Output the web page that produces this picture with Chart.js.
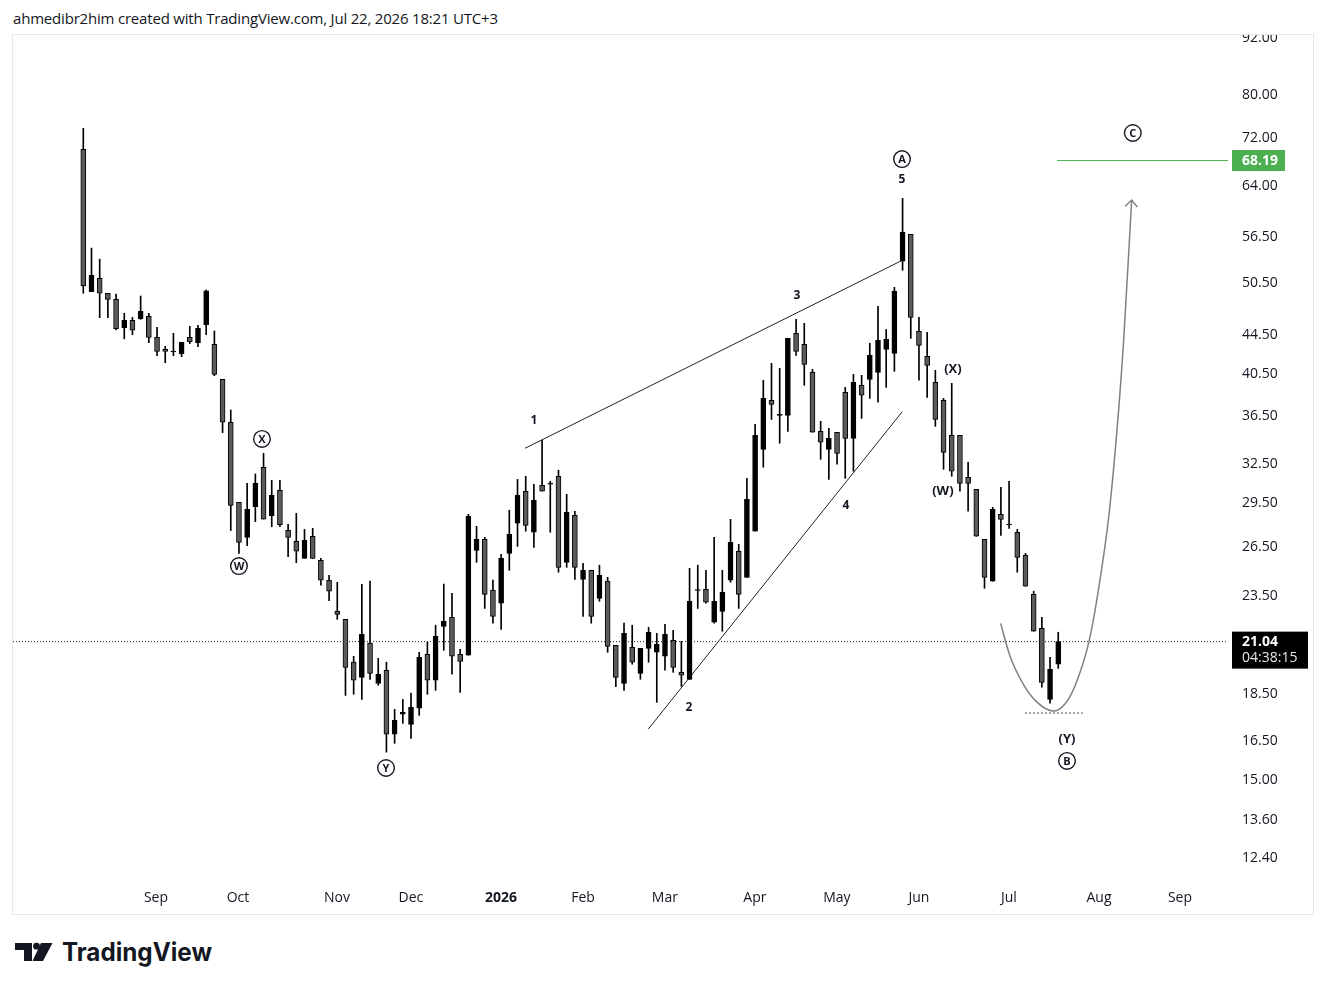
<!DOCTYPE html>
<html>
<head>
<meta charset="utf-8">
<script src="https://cdn.jsdelivr.net/npm/chart.js@4.4.1/dist/chart.umd.min.js"></script>
<style>
  body { margin: 0; background: #fff; width: 1326px; height: 990px; overflow: hidden; }
  #head { position: absolute; left: 0; top: 0; }
  #frame { position: absolute; left: 12px; top: 34px; width: 1300px; height: 879px; border: 1px solid #e6e6e6; }
  #logo { position: absolute; left: 0; top: 930px; }
</style>
</head>
<body>
<svg id="head" width="600" height="34">
  <text x="13" y="24" font-family="Open Sans" font-size="15" fill="#131722" textLength="485">ahmedibr2him created with TradingView.com, Jul 22, 2026 18:21 UTC+3</text>
</svg>
<div id="frame"><canvas id="chart" width="1300" height="879"></canvas></div>
<svg id="logo" width="260" height="50">
  <path d="M15 13 H32 V31 H24 V20 H15 Z" fill="#131722"/>
  <circle cx="36.5" cy="16.2" r="3.4" fill="#131722"/>
  <path d="M41 13 H52.5 L43 31 H32.5 Z" fill="#131722"/>
  <text x="62" y="31" font-family="Inter" font-weight="700" font-size="25" fill="#131722" textLength="150" lengthAdjust="spacingAndGlyphs">TradingView</text>
</svg>
<script>
// 3-day candles (index 0 = first candle)
const opens = [70.07,49.49,51.13,49.30,48.57,45.31,46.15,46.32,46.60,44.26,42.98,42.71,42.53,44.26,43.69,45.65,43.52,39.94,35.97,29.58,
  27.15,29.26,32.22,28.62,30.46,27.62,26.89,25.79,27.22,25.67,24.45,22.66,22.22,20.01,19.28,20.96,19.00,19.62,16.78,17.62,
  17.19,17.88,20.40,19.15,21.84,22.33,20.40,20.35,26.30,27.01,23.86,23.11,26.11,28.10,30.39,27.49,30.83,30.91,31.52,25.54,
  28.65,24.50,25.05,23.39,24.39,20.85,19.00,20.75,19.47,20.70,20.50,20.30,21.11,19.52,19.19,23.84,23.91,22.06,22.66,24.45,
  26.24,24.62,27.56,33.66,37.95,36.58,36.58,44.70,43.52,40.64,35.18,33.66,35.10,38.70,34.58,39.37,39.94,40.64,42.98,42.57,
  53.31,56.94,44.92,42.26,39.66,37.95,34.84,34.84,31.44,30.53,27.01,24.39,28.72,27.98,27.49,25.98,23.62,21.73,18.27,19.91];
const highs = [73.77,55.06,53.59,49.30,49.21,46.94,46.48,48.97,46.94,45.36,43.30,44.70,43.73,45.47,45.59,49.70,44.96,39.94,37.06,29.58,
  30.98,31.70,33.34,31.21,31.21,28.03,28.79,27.68,27.75,25.79,24.74,24.33,22.22,20.30,24.21,24.39,20.20,20.01,17.83,18.27,
  18.55,20.50,21.01,21.90,24.22,23.68,20.65,28.72,27.89,27.15,24.45,26.05,29.01,31.28,31.52,30.91,34.42,31.14,31.99,30.16,
  28.94,25.48,25.05,25.36,24.62,20.85,22.01,21.90,20.70,21.79,21.47,21.95,21.63,21.06,25.17,25.36,25.05,27.15,25.05,28.37,
  26.69,31.36,35.79,39.86,41.54,41.03,44.15,46.25,45.81,40.93,36.05,35.44,35.10,39.17,40.44,40.34,43.63,47.75,45.13,50.02,
  62.17,56.94,46.48,44.81,40.84,38.13,39.56,34.84,32.62,30.53,27.01,29.22,30.68,31.14,27.68,26.11,23.80,22.33,20.25,21.53];
const lows = [49.30,49.49,46.44,46.44,45.07,44.11,44.55,46.25,43.69,42.32,41.61,42.32,42.22,43.58,43.26,44.55,40.30,35.06,27.60,26.11,
  26.60,28.21,28.39,27.86,27.86,25.89,25.52,25.79,25.79,24.15,23.26,22.22,18.45,18.50,18.27,19.19,18.91,16.06,16.41,17.23,
  16.61,17.57,18.50,18.68,20.60,19.43,18.59,20.35,25.54,22.82,22.01,21.68,25.05,26.56,27.56,26.49,30.39,27.49,24.93,25.23,
  24.50,22.38,22.01,23.22,20.50,18.85,18.68,19.91,19.19,20.01,18.14,19.62,19.52,18.86,19.19,22.82,23.11,22.01,21.58,24.33,
  22.82,24.62,27.56,32.22,36.22,34.17,35.18,42.36,39.37,35.10,32.85,31.28,32.46,31.36,31.91,36.31,38.13,37.77,39.17,40.74,
  52.15,44.15,39.86,38.23,35.61,32.06,31.52,30.39,28.94,27.22,23.97,24.39,27.28,27.75,24.93,24.09,21.58,18.82,18.10,19.71];
const closes = [50.18,51.51,49.30,48.57,45.20,46.15,45.04,47.18,44.26,42.78,42.78,42.81,43.73,43.80,45.25,49.58,40.44,35.97,29.36,26.82,
  29.07,30.98,28.39,30.09,28.00,27.15,26.24,26.96,25.79,24.45,23.80,22.49,19.76,19.15,21.42,19.47,19.43,16.78,17.36,17.70,
  17.92,20.25,19.15,21.32,22.11,20.30,20.05,28.58,27.01,23.62,22.38,25.79,27.35,30.09,27.96,29.72,30.39,30.98,25.23,28.86,
  25.23,25.05,22.38,24.74,20.80,19.28,21.47,20.01,20.70,21.53,20.90,21.42,19.76,19.38,23.22,23.90,23.17,23.22,23.74,26.82,
  23.62,29.79,34.84,38.13,37.58,36.67,44.15,42.78,41.44,35.10,34.25,34.58,33.34,34.58,39.66,38.42,42.36,43.95,44.04,49.54,
  57.22,46.48,43.41,41.34,36.22,33.42,31.91,30.98,30.98,27.22,24.62,29.07,28.37,28.05,25.85,24.09,21.58,19.05,19.66,21.04];

// axis labels
const monthLabels = ['Sep','Oct','Nov','Dec','2026','Feb','Mar','Apr','May','Jun','Jul','Aug','Sep'];
const monthPos = [8.87,18.88,30.96,39.99,50.98,60.99,70.99,81.97,91.98,101.99,112.98,123.97,133.86];
const yTicks = [92,80,72,64,56.5,50.5,44.5,40.5,36.5,32.5,29.5,26.5,23.5,18.5,16.5,15,13.6,12.4];

// drawings (candle index, price)
const upperLine = [{x:53.91, y:33.75}, {x:99.80, y:53.35}];
const lowerLine = [{x:68.96, y:16.99}, {x:99.96, y:36.91}];
const curvePath = [{x:111.97,y:22.0},{x:113.11,y:20.32},{x:114.73,y:18.97},{x:116.37,y:18.16},{x:118.39,y:17.76},
  {x:119.82,y:18.07},{x:121.04,y:18.88},{x:122.75,y:21.04},{x:124.09,y:24.46},{x:125.31,y:29.31},{x:126.93,y:43.17},{x:127.96,y:61.92}];
const targetPrice = 68.19;
const lowMark = 17.67;
const lastPrice = closes[closes.length - 1];
const lastTime = '04:38:15';

const waveLabels = ['W','X','Y','1','2','3','4','5','A','(X)','(W)','(Y)','B','C'];
const waveIdx = [19.0,21.81,36.95,55.0,73.93,87.1,93.1,99.93,99.93,106.14,104.92,120.07,120.07,128.1];
const wavePrice = [25.31,34.53,15.45,36.08,17.93,48.97,29.31,65.17,68.43,40.96,30.41,16.58,15.72,72.94];
const waveCircled = [true,true,true,false,false,false,false,false,true,false,false,false,true,true];

const xMin = -8.58, xMax = 139.72;

const bodyData = opens.map((o, i) => ({x: i, y: [Math.min(o, closes[i]), Math.max(o, closes[i])]}));
const wickData = lows.map((l, i) => ({x: i, y: [l, highs[i]]}));
const bodyColors = opens.map((o, i) => closes[i] >= o ? '#000000' : '#5b5b5b');

// labels, arrow head and price boxes on top of the chart
const overlay = {
  id: 'overlay',
  afterDatasetsDraw(chart) {
    const ctx = chart.ctx, xs = chart.scales.x, ys = chart.scales.y;
    ctx.save();
    ctx.fillStyle = '#131722';
    ctx.strokeStyle = '#131722';
    ctx.textAlign = 'center';
    ctx.textBaseline = 'middle';
    for (let i = 0; i < waveLabels.length; i++) {
      const px = xs.getPixelForValue(waveIdx[i]);
      const py = ys.getPixelForValue(wavePrice[i]);
      if (waveCircled[i]) {
        ctx.lineWidth = 1.4;
        ctx.beginPath();
        ctx.arc(px, py, 8.3, 0, Math.PI * 2);
        ctx.stroke();
        ctx.font = 'bold 11px "Open Sans"';
        ctx.fillText(waveLabels[i], px, py + 0.5);
      } else {
        ctx.font = waveLabels[i].length > 1 ? 'bold 13px "Open Sans"' : 'bold 12px "Open Sans"';
        ctx.fillText(waveLabels[i], px, py);
      }
    }

    // arrow head at the end of the curve
    const n = curvePath.length;
    const tx = xs.getPixelForValue(curvePath[n - 1].x), ty = ys.getPixelForValue(curvePath[n - 1].y);
    const bx = xs.getPixelForValue(curvePath[n - 2].x), by = ys.getPixelForValue(curvePath[n - 2].y);
    const ang = Math.atan2(by - ty, bx - tx);
    ctx.strokeStyle = '#808080';
    ctx.lineWidth = 1.5;
    ctx.beginPath();
    ctx.moveTo(tx + 9 * Math.cos(ang + 0.75), ty + 9 * Math.sin(ang + 0.75));
    ctx.lineTo(tx, ty);
    ctx.lineTo(tx + 9 * Math.cos(ang - 0.75), ty + 9 * Math.sin(ang - 0.75));
    ctx.stroke();

    // price boxes on the right scale
    const left = chart.chartArea.right + 4;
    ctx.textAlign = 'left';
    let py = ys.getPixelForValue(targetPrice);
    ctx.fillStyle = '#4caf50';
    ctx.fillRect(left, py - 10.5, 53, 21);
    ctx.fillStyle = '#ffffff';
    ctx.font = 'bold 14px "Open Sans"';
    ctx.fillText(targetPrice.toFixed(2), left + 10, py);

    py = ys.getPixelForValue(lastPrice);
    ctx.fillStyle = '#000000';
    ctx.fillRect(left, py - 10, 76, 37);
    ctx.fillStyle = '#ffffff';
    ctx.fillText(lastPrice.toFixed(2), left + 10, py);
    ctx.font = '14px "Open Sans"';
    ctx.fillStyle = '#e6e6e6';
    ctx.fillText(lastTime, left + 10, py + 16);
    ctx.restore();
  }
};

new Chart(document.getElementById('chart'), {
  type: 'bar',
  data: {
    datasets: [
      {data: bodyData, backgroundColor: bodyColors, borderColor: '#000000', borderWidth: 1, borderSkipped: false,
        barThickness: 5, grouped: false, order: 0},
      {data: wickData, backgroundColor: '#000000', borderWidth: 0, barThickness: 1, grouped: false, order: 1},
      {type: 'line', data: upperLine, borderColor: '#222222', borderWidth: 1, pointRadius: 0, order: 2},
      {type: 'line', data: lowerLine, borderColor: '#222222', borderWidth: 1, pointRadius: 0, order: 2},
      {type: 'line', data: curvePath, borderColor: '#808080', borderWidth: 1.5, pointRadius: 0,
        cubicInterpolationMode: 'monotone', order: 2},
      {type: 'line', data: [{x: 118.85, y: targetPrice}, {x: xMax, y: targetPrice}], borderColor: '#4caf50',
        borderWidth: 1, pointRadius: 0, order: 2},
      {type: 'line', data: [{x: xMin, y: lastPrice}, {x: xMax, y: lastPrice}], borderColor: '#131722',
        borderWidth: 1, borderDash: [1, 2], pointRadius: 0, order: 2},
      {type: 'line', data: [{x: 114.94, y: lowMark}, {x: 122.0, y: lowMark}], borderColor: '#555555',
        borderWidth: 1, borderDash: [2, 2], pointRadius: 0, order: 2}
    ]
  },
  options: {
    responsive: false,
    animation: false,
    events: [],
    layout: {padding: 0},
    plugins: {legend: {display: false}, tooltip: {enabled: false}},
    scales: {
      x: {
        type: 'linear', min: xMin, max: xMax, offset: false, bounds: 'data',
        grid: {display: false, drawTicks: false}, border: {display: false},
        afterBuildTicks: s => { s.ticks = monthPos.map(v => ({value: v})); },
        afterFit: s => { s.height = 34; s.paddingLeft = 0; s.paddingRight = 0; },
        ticks: {
          autoSkip: false, maxRotation: 0, padding: 10, color: '#131722',
          font: c => ({family: 'Open Sans', size: 14, weight: monthLabels[c.index] === '2026' ? 'bold' : 'normal'}),
          callback: (v, i) => monthLabels[i]
        }
      },
      y: {
        type: 'logarithmic', position: 'right', min: 11.75, max: 92.68, bounds: 'data',
        grid: {display: false, drawTicks: false}, border: {display: false},
        afterBuildTicks: s => { s.ticks = yTicks.map(v => ({value: v})); },
        afterFit: s => { s.width = 85; s.paddingTop = 0; s.paddingBottom = 0; },
        ticks: {
          autoSkip: false, padding: 14, color: '#131722', font: {family: 'Open Sans', size: 14},
          callback: v => v.toFixed(2)
        }
      }
    }
  },
  plugins: [overlay]
});
</script>
</body>
</html>
